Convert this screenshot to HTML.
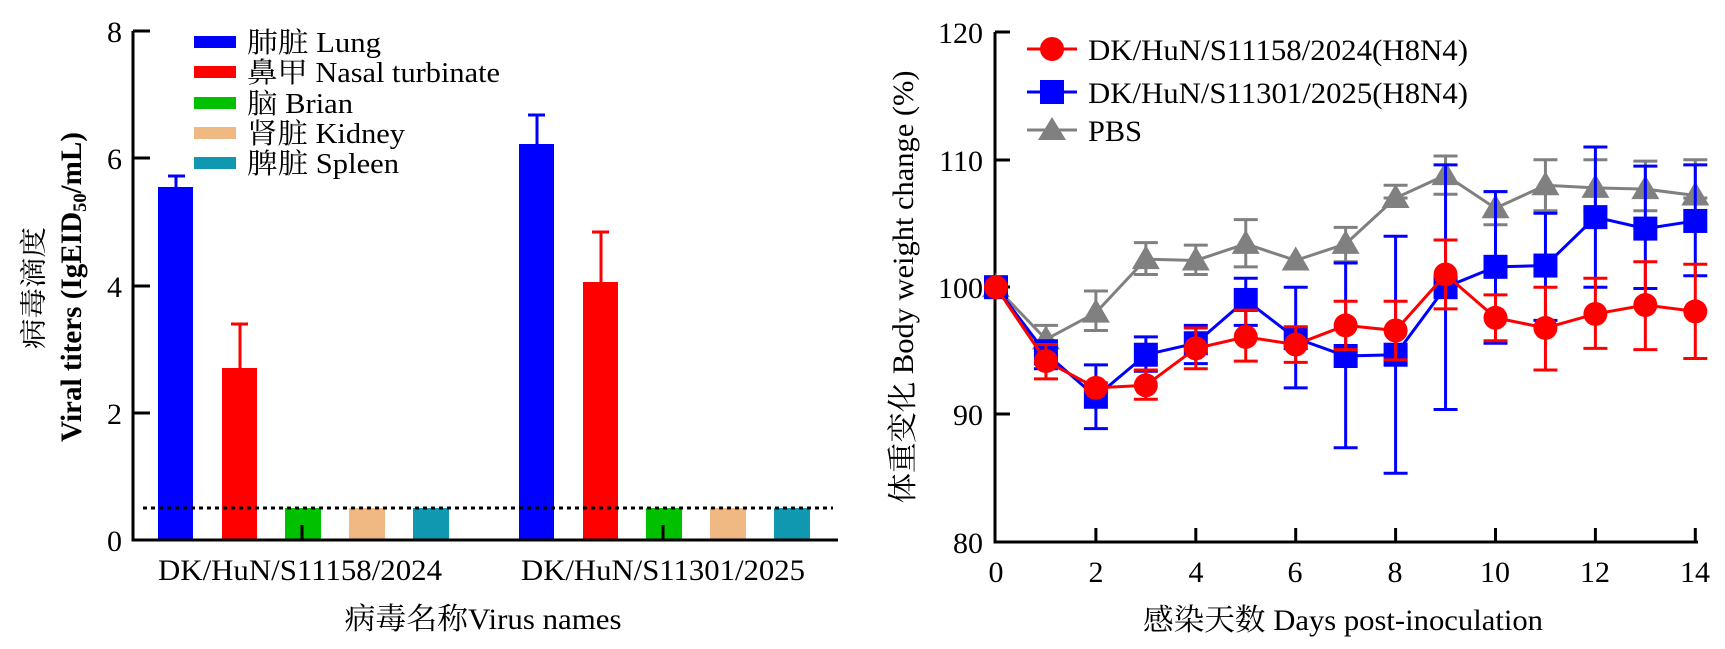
<!DOCTYPE html>
<html><head><meta charset="utf-8">
<style>
html,body{margin:0;padding:0;background:#fff;}
svg{display:block;font-family:"Liberation Serif","Noto Serif CJK SC",serif;}
</style></head>
<body>
<svg id="s" width="1725" height="649" viewBox="0 0 1725 649" xmlns="http://www.w3.org/2000/svg">
<rect width="1725" height="649" fill="#fff"/>
<g id="left">
<rect x="158" y="187" width="35" height="353" fill="#0000ff"/>
<rect x="222" y="368" width="35" height="172" fill="#ff0000"/>
<rect x="285" y="508" width="36" height="32" fill="#00c000"/>
<rect x="349" y="508" width="36" height="32" fill="#f0b882"/>
<rect x="413" y="508" width="36" height="32" fill="#1098b0"/>
<rect x="519" y="144" width="35" height="396" fill="#0000ff"/>
<rect x="583" y="282" width="35" height="258" fill="#ff0000"/>
<rect x="646" y="508" width="36" height="32" fill="#00c000"/>
<rect x="710" y="508" width="36" height="32" fill="#f0b882"/>
<rect x="774" y="508" width="36" height="32" fill="#1098b0"/>
<g stroke-width="3">
<path d="M176 187V176M168 176H185" stroke="#0000ff"/>
<path d="M240 368V324M231 324H248" stroke="#ff0000"/>
<path d="M537 144V115M528 115H545" stroke="#0000ff"/>
<path d="M601 282V232M592 232H609" stroke="#ff0000"/>
</g>
<line x1="143" y1="508" x2="833" y2="508" stroke="#000" stroke-width="3" stroke-dasharray="4,4"/>
<g stroke="#000" stroke-width="3" fill="none">
<path d="M133 31V540H838"/>
<path d="M133 31H150M133 158H150M133 286H150M133 413H150"/>
<path d="M302 540V525M663 540V525"/>
</g>
<g font-size="30" text-anchor="end">
<text x="122" y="42">8</text><text x="122" y="169">6</text><text x="122" y="297">4</text><text x="122" y="424">2</text><text x="122" y="551">0</text>
</g>
<text x="300" y="580" font-size="30" text-anchor="middle" textLength="284" lengthAdjust="spacingAndGlyphs">DK/HuN/S11158/2024</text>
<text x="663" y="580" font-size="30" text-anchor="middle" textLength="284" lengthAdjust="spacingAndGlyphs">DK/HuN/S11301/2025</text>
<text x="483" y="629" font-size="30" text-anchor="middle" textLength="277" lengthAdjust="spacingAndGlyphs">病毒名称Virus names</text>
<text transform="translate(43,288) rotate(-90)" font-size="27" text-anchor="middle" textLength="122" lengthAdjust="spacingAndGlyphs">病毒滴度</text>
<text transform="translate(81,287) rotate(-90)" font-size="30" font-weight="bold" text-anchor="middle" textLength="310" lengthAdjust="spacingAndGlyphs">Viral titers (IgEID<tspan font-size="19" dy="5">50</tspan><tspan dy="-5">/mL)</tspan></text>
<g>
<rect x="194" y="36" width="42" height="12" fill="#0000ff"/>
<rect x="194" y="66" width="42" height="12" fill="#ff0000"/>
<rect x="194" y="97" width="42" height="12" fill="#00c000"/>
<rect x="194" y="127" width="42" height="12" fill="#f0b882"/>
<rect x="194" y="157" width="42" height="12" fill="#1098b0"/>
</g>
<g font-size="28">
<text x="247" y="52" textLength="134" lengthAdjust="spacingAndGlyphs">肺脏 Lung</text>
<text x="247" y="82" textLength="253" lengthAdjust="spacingAndGlyphs">鼻甲 Nasal turbinate</text>
<text x="247" y="113" textLength="106" lengthAdjust="spacingAndGlyphs">脑 Brian</text>
<text x="247" y="143" textLength="158" lengthAdjust="spacingAndGlyphs">肾脏 Kidney</text>
<text x="247" y="173" textLength="152" lengthAdjust="spacingAndGlyphs">脾脏 Spleen</text>
</g>
</g>
<g stroke="#000" stroke-width="3" fill="none">
<path d="M995 32V542H1698"/>
<path d="M995 32H1010M995 160H1010M995 287H1010M995 414H1010"/>
<path id="xt" d=""/>
</g>
<g font-size="30" text-anchor="end">
<text x="983" y="43">120</text><text x="983" y="171">110</text><text x="983" y="298">100</text><text x="983" y="425">90</text><text x="983" y="553">80</text>
</g>
<g font-size="30" text-anchor="middle">
<text x="996" y="582">0</text><text x="1096" y="582">2</text><text x="1196" y="582">4</text><text x="1295" y="582">6</text><text x="1395" y="582">8</text><text x="1495" y="582">10</text><text x="1595" y="582">12</text><text x="1695" y="582">14</text>
</g>
<text x="1343" y="630" font-size="30" text-anchor="middle" textLength="400" lengthAdjust="spacingAndGlyphs">感染天数 Days post-inoculation</text>
<text transform="translate(913,287) rotate(-90)" font-size="30" text-anchor="middle" textLength="433" lengthAdjust="spacingAndGlyphs">体重变化 Body weight change (%)</text>
<g id="data"></g>
<g>
<line x1="1027" y1="49" x2="1077" y2="49" stroke="#ff0000" stroke-width="3"/><circle cx="1052" cy="49" r="12" fill="#ff0000"/>
<line x1="1027" y1="92" x2="1077" y2="92" stroke="#0000ff" stroke-width="3"/><rect x="1040" y="80" width="24" height="24" fill="#0000ff"/>
<line x1="1027" y1="130" x2="1077" y2="130" stroke="#808080" stroke-width="3"/><path d="M1052 117L1066 140H1038Z" fill="#808080"/>
</g>
<g font-size="30">
<text x="1088" y="60" textLength="380" lengthAdjust="spacingAndGlyphs">DK/HuN/S11158/2024(H8N4)</text>
<text x="1088" y="103" textLength="380" lengthAdjust="spacingAndGlyphs">DK/HuN/S11301/2025(H8N4)</text>
<text x="1088" y="141" textLength="54" lengthAdjust="spacingAndGlyphs">PBS</text>
</g>
</svg>
<script>
(function(){
var NS="http://www.w3.org/2000/svg";
function X(d){return 996+d*49.95;}
function Y(v){return 542-(v-80)*12.74;}
var xt="";for(var d=2;d<=14;d+=2){xt+="M"+X(d)+" 542V528";}
document.getElementById("xt").setAttribute("d",xt);
var g=document.getElementById("data");
function el(t,a){var e=document.createElementNS(NS,t);for(var k in a)e.setAttribute(k,a[k]);g.appendChild(e);return e;}
var series=[
{c:"#808080",m:"t",v:[100,95.9,98.0,102.2,102.1,103.4,102.1,103.4,107.0,108.8,106.2,108.0,107.8,107.7,107.2],
 e:[null,[97,95],[99.7,96.6],[103.5,101],[103.3,101],[105.3,101.6],null,[104.7,102],[108,107],[110.3,107.3],[107.5,104.9],[110,106],[110,106],[109.9,106],[110,107]]},
{c:"#0000ff",m:"s",v:[100,94.8,91.4,94.7,95.6,99.0,96.0,94.6,94.7,100.0,101.6,101.7,105.5,104.6,105.2],
 e:[null,[95.8,93.6],[93.9,88.9],[96.1,93.4],[97,94],[100.7,97],[100,92.1],[101.9,87.4],[104,85.4],[109.6,90.4],[107.5,95.6],[105.8,97.4],[111,100],[109.5,99.9],[109.6,100.9]]},
{c:"#ff0000",m:"c",v:[100,94.2,92.1,92.3,95.2,96.1,95.5,97.0,96.6,101.0,97.6,96.8,97.9,98.6,98.1],
 e:[null,[95.5,92.8],[92.5,92],[93.5,91.2],[96.8,93.6],[98.2,94.2],[96.9,94.1],[98.9,95.1],[98.9,94.3],[103.7,98.3],[99.4,95.8],[100,93.5],[100.7,95.2],[102,95.1],[101.8,94.4]]}
];
series.forEach(function(s){
 s.e.forEach(function(b,i){ if(!b)return; var x=X(i);
  el("path",{d:"M"+x+" "+Y(b[0])+"V"+Y(b[1])+"M"+(x-12)+" "+Y(b[0])+"H"+(x+12)+"M"+(x-12)+" "+Y(b[1])+"H"+(x+12),stroke:s.c,"stroke-width":3,fill:"none"});});
 var p="";s.v.forEach(function(v,i){p+=(i?"L":"M")+X(i)+" "+Y(v);});
 el("path",{d:p,stroke:s.c,"stroke-width":3,fill:"none"});
 s.v.forEach(function(v,i){var x=X(i),y=Y(v);
  if(s.m=="c")el("circle",{cx:x,cy:y,r:12,fill:s.c});
  else if(s.m=="s")el("rect",{x:x-12,y:y-12,width:24,height:24,fill:s.c});
  else el("path",{d:"M"+x+" "+(y-14)+"L"+(x+14)+" "+(y+10)+"H"+(x-14)+"Z",fill:s.c});});
});
})();
</script>
</body></html>
